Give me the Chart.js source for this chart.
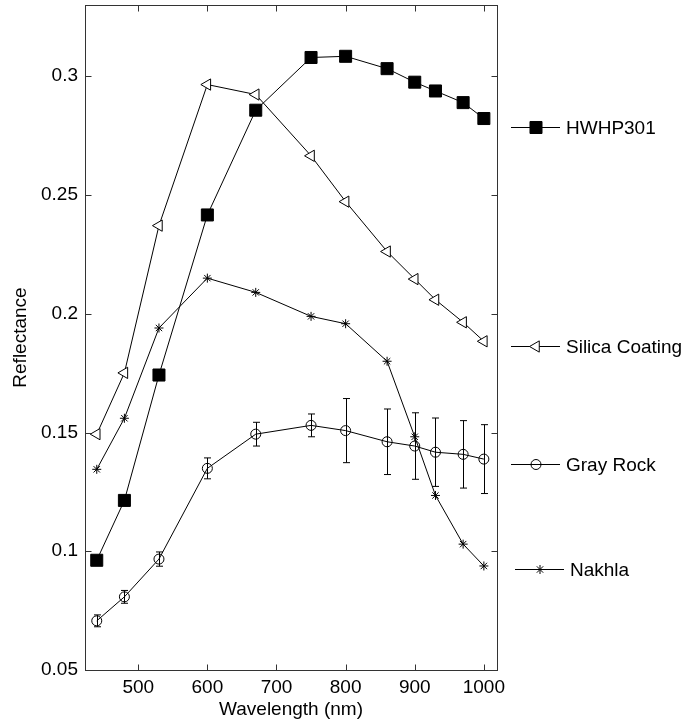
<!DOCTYPE html>
<html>
<head>
<meta charset="utf-8">
<script src="https://cdn.jsdelivr.net/npm/chart.js@4.4.1/dist/chart.umd.min.js"></script>
<style>
  html, body { margin: 0; padding: 0; background: #fff; }
</style>
</head>
<body>
<canvas id="myChart" width="690" height="724"></canvas>
<script>
// data
const wavelengths = [440, 480, 530, 600, 670, 750, 800, 860, 900, 930, 970, 1000];
const hwhp301 = [0.0962, 0.1214, 0.1742, 0.2416, 0.2857, 0.3079, 0.3084, 0.3032, 0.2975, 0.2938, 0.2889, 0.2822];
const silicaCoating = [0.1493, 0.1751, 0.2371, 0.2965, 0.2923, 0.2665, 0.2472, 0.2262, 0.2146, 0.2059, 0.1964, 0.1884];
const grayRock = [0.0707, 0.0808, 0.0967, 0.1349, 0.1493, 0.1530, 0.1508, 0.1461, 0.1443, 0.1417, 0.1408, 0.1388];
const grayRockErr = [0.0025, 0.0027, 0.003, 0.0044, 0.005, 0.0048, 0.0135, 0.0138, 0.014, 0.0144, 0.0142, 0.0145];
const nakhla = [0.1345, 0.156, 0.194, 0.215, 0.209, 0.1989, 0.1958, 0.180, 0.1482, 0.1235, 0.103, 0.0938];

const xTicks = [500, 600, 700, 800, 900, 1000];
const yTicks = [0.05, 0.1, 0.15, 0.2, 0.25, 0.3];
const seriesNames = ["HWHP301", "Silica Coating", "Gray Rock", "Nakhla"];
// where the labels on the right sit (in reflectance units)
const labelY = [0.2787, 0.1863, 0.1369, 0.0927];

const FONT = "19px 'Liberation Sans', Arial, sans-serif";

const toPoints = (vals) => vals.map((v, i) => ({ x: wavelengths[i], y: v }));

const styles = [
  { pointStyle: "rect", radius: 8.5, rotation: 0, fill: "#000" },
  { pointStyle: "triangle", radius: 6.5, rotation: -90, fill: "#fff" },
  { pointStyle: "circle", radius: 5, rotation: 0, fill: "rgba(0,0,0,0)" },
  { pointStyle: "star", radius: 4.5, rotation: 0, fill: "#000" },
];
const seriesData = [hwhp301, silicaCoating, grayRock, nakhla];

const frame = {
  id: "frame",
  afterDatasetsDraw(chart) {
    const { ctx, chartArea: { top, bottom, left, right }, scales: { x, y } } = chart;
    ctx.save();
    ctx.strokeStyle = "#000";
    ctx.lineWidth = 1;

    // error bars on Gray Rock
    grayRock.forEach((v, i) => {
      const px = Math.round(x.getPixelForValue(wavelengths[i])) + 0.5;
      const y1 = y.getPixelForValue(v + grayRockErr[i]);
      const y2 = y.getPixelForValue(v - grayRockErr[i]);
      ctx.beginPath();
      ctx.moveTo(px, y1); ctx.lineTo(px, y2);
      ctx.moveTo(px - 3.5, y1); ctx.lineTo(px + 3.5, y1);
      ctx.moveTo(px - 3.5, y2); ctx.lineTo(px + 3.5, y2);
      ctx.stroke();
    });

    // box
    ctx.strokeStyle = "#333";
    const l = Math.round(left) + 0.5, r = Math.round(right) + 0.5;
    const t = Math.round(top) + 0.5, b = Math.round(bottom) + 0.5;
    ctx.strokeRect(l, t, r - l, b - t);

    // inward ticks
    ctx.beginPath();
    xTicks.forEach((v) => {
      const px = Math.round(x.getPixelForValue(v)) + 0.5;
      ctx.moveTo(px, b); ctx.lineTo(px, b - 6);
      ctx.moveTo(px, t); ctx.lineTo(px, t + 6);
    });
    yTicks.forEach((v) => {
      const py = Math.round(y.getPixelForValue(v)) + 0.5;
      ctx.moveTo(l, py); ctx.lineTo(l + 6, py);
      ctx.moveTo(r, py); ctx.lineTo(r - 6, py);
    });
    ctx.stroke();
    ctx.strokeStyle = "#000";

    // axis titles
    ctx.fillStyle = "#000";
    ctx.font = FONT;
    ctx.textAlign = "center";
    ctx.textBaseline = "middle";
    ctx.fillText("Wavelength (nm)", (left + right) / 2, 710);
    ctx.save();
    ctx.translate(21, (top + bottom) / 2);
    ctx.rotate(-Math.PI / 2);
    ctx.fillText("Reflectance", 0, 0);
    ctx.restore();

    // series labels on the right
    ctx.textAlign = "left";
    seriesNames.forEach((name, i) => {
      const py = Math.round(y.getPixelForValue(labelY[i])) + 0.5;
      const dx = i === 3 ? 4 : 0;
      ctx.beginPath();
      ctx.moveTo(right + 14 + dx, py);
      ctx.lineTo(right + 63 + dx, py);
      ctx.stroke();
      ctx.fillStyle = styles[i].fill;
      Chart.helpers.drawPoint(ctx, {
        pointStyle: styles[i].pointStyle,
        radius: styles[i].radius,
        rotation: styles[i].rotation,
        borderWidth: 1,
      }, right + 39 + dx, py);
      ctx.fillStyle = "#000";
      ctx.fillText(name, right + 69 + dx, py + 1);
    });
    ctx.restore();
  },
};

new Chart(document.getElementById("myChart"), {
  type: "scatter",
  data: {
    datasets: seriesData.map((vals, i) => ({
      label: seriesNames[i],
      data: toPoints(vals),
      showLine: true,
      borderColor: "#000",
      borderWidth: 1,
      backgroundColor: styles[i].fill,
      pointStyle: styles[i].pointStyle,
      pointRadius: styles[i].radius,
      pointRotation: styles[i].rotation,
      pointBorderColor: "#000",
      pointBackgroundColor: styles[i].fill,
      pointBorderWidth: 1,
      pointHoverRadius: styles[i].radius,
    })),
  },
  options: {
    responsive: false,
    animation: false,
    events: [],
    layout: { autoPadding: false, padding: { top: 5, right: 193, left: 0, bottom: 0 } },
    scales: {
      x: {
        type: "linear",
        min: 423,
        max: 1019,
        afterBuildTicks: (scale) => { scale.ticks = xTicks.map((v) => ({ value: v })); },
        afterFit: (scale) => {
          scale.height = 54;
          scale.paddingLeft = 0;
          scale.paddingRight = 0;
        },
        grid: { display: false, drawTicks: false },
        border: { display: false },
        ticks: {
          color: "#000",
          padding: 6,
          font: { family: "'Liberation Sans', Arial, sans-serif", size: 19 },
          callback: (v) => String(v),
        },
      },
      y: {
        type: "linear",
        min: 0.05,
        max: 0.33,
        afterBuildTicks: (scale) => { scale.ticks = yTicks.map((v) => ({ value: v })); },
        afterFit: (scale) => {
          scale.width = 85;
          scale.paddingTop = 0;
          scale.paddingBottom = 0;
        },
        grid: { display: false, drawTicks: false },
        border: { display: false },
        ticks: {
          color: "#000",
          padding: 7,
          font: { family: "'Liberation Sans', Arial, sans-serif", size: 19 },
          callback: (v) => String(v),
        },
      },
    },
    plugins: {
      legend: { display: false },
      tooltip: { enabled: false },
    },
  },
  plugins: [frame],
});
</script>
</body>
</html>
